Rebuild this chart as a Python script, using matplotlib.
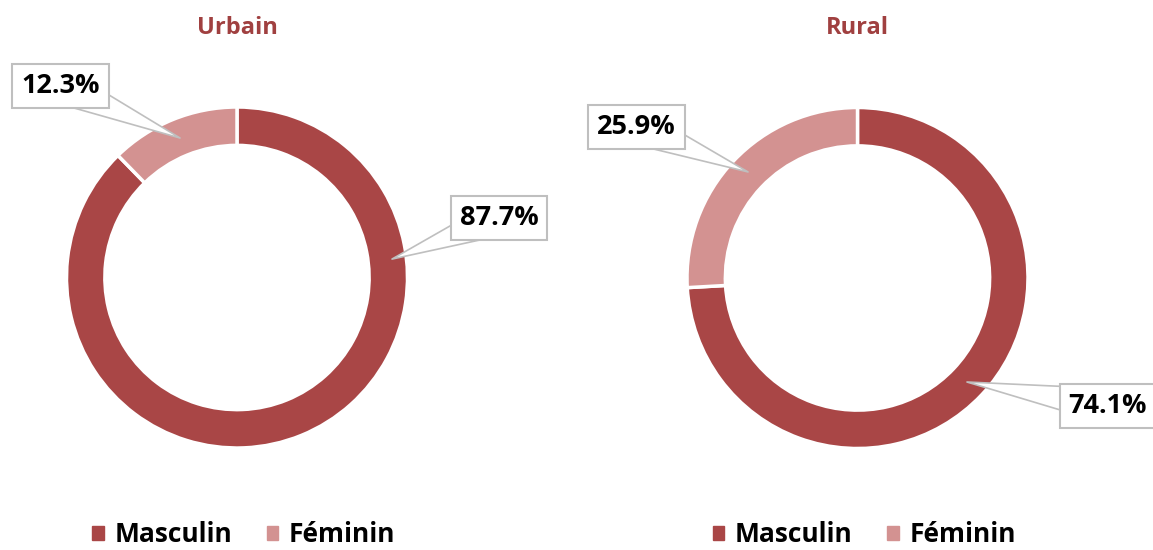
import matplotlib.pyplot as plt
from matplotlib.patches import Patch

# data
groups = ['Urbain', 'Rural']
categories = ['Masculin', 'Féminin']
shares = {
    'Urbain': [87.7, 12.3],
    'Rural': [74.1, 25.9],
}
colors = ['#A94646', '#D39291']
title_color = '#A04040'

plt.rcParams['font.family'] = ['Open Sans', 'DejaVu Sans']

# label placement (data units, donut radius = 1): tip of callout, centre of box
label_pos = {
    'Urbain': [((0.909, 0.108), (1.537, 0.349)), ((-0.334, 0.818), (-1.035, 1.123))],
    'Rural': [((0.642, -0.610), (1.469, -0.751)), ((-0.642, 0.622), (-1.296, 0.886))],
}

W, H = 1153, 550
scale = 170.5  # pixels per unit radius
centers = {'Urbain': (237, 277.5), 'Rural': (857.5, 278)}
spans = {'Urbain': (0, 576.5), 'Rural': (576.5, W)}

fig = plt.figure(figsize=(W / 100, H / 100), dpi=100)

for g in groups:
    x0, x1 = spans[g]
    cx, cy = centers[g]
    ax = fig.add_axes([x0 / W, 0, (x1 - x0) / W, 1])
    ax.pie(shares[g], colors=colors, startangle=90, counterclock=False,
           wedgeprops=dict(width=0.225, edgecolor='white', linewidth=2.5))
    ax.set_aspect('auto')
    ax.set_xlim((x0 - cx) / scale, (x1 - cx) / scale)
    ax.set_ylim(-(H - cy) / scale, cy / scale)
    ax.axis('off')

    ax.text(0, (cy - 28) / scale, g, ha='center', va='center',
            fontsize=17, fontweight='bold', color=title_color)

    for val, (tip, box) in zip(shares[g], label_pos[g]):
        ax.annotate('%.1f%%' % val, xy=tip, xytext=box,
                    ha='center', va='center', fontsize=19.5, fontweight='bold',
                    annotation_clip=False,
                    bbox=dict(boxstyle='square,pad=0.33', fc='white', ec='#BFBFBF', lw=1.5),
                    arrowprops=dict(arrowstyle='wedge,tail_width=1.3,shrink_factor=0.5',
                                    patchA=None, shrinkA=0, shrinkB=0,
                                    fc='white', ec='#BFBFBF', lw=1.2))

    handles = [Patch(color=c) for c in colors]
    ax.legend(handles, categories, loc='center', ncol=2, frameon=False,
              bbox_to_anchor=(0.04, -(535 - cy) / scale), bbox_transform=ax.transData,
              prop=dict(size=19, weight='bold'), handlelength=0.45, handleheight=0.45,
              handletextpad=0.4, columnspacing=1.3)

fig.savefig('out.png', dpi=100)
